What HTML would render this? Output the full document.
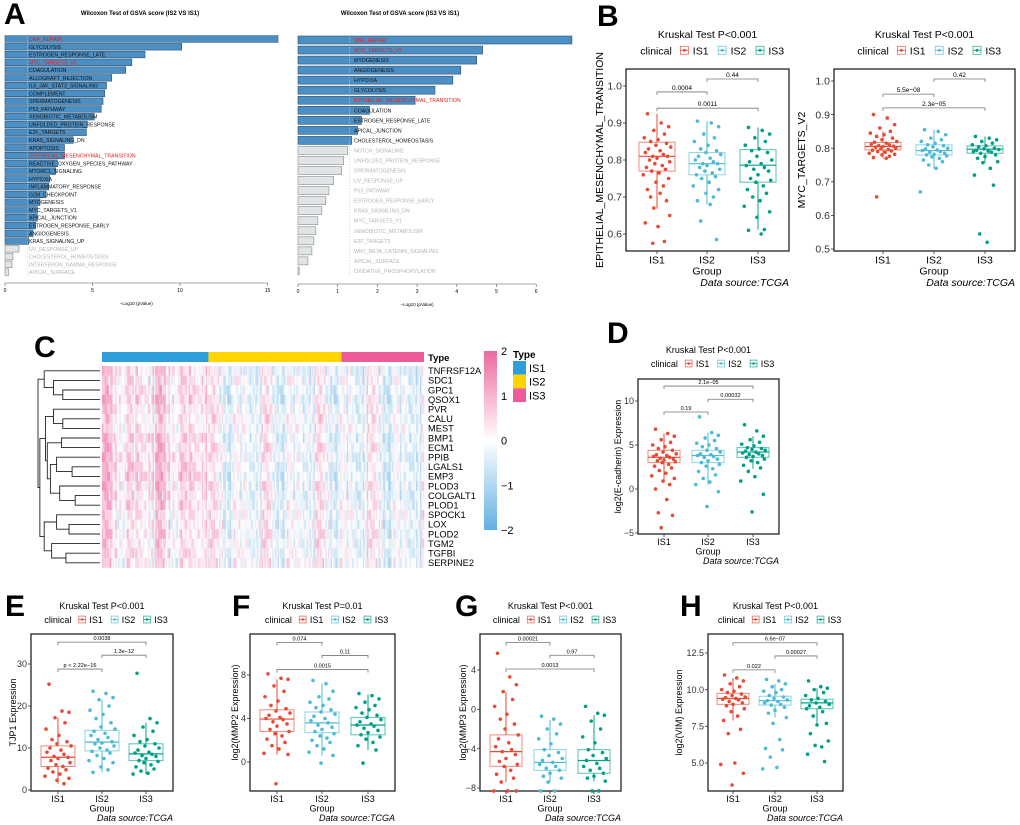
<!DOCTYPE html>
<html><head><meta charset="utf-8"><style>
html,body{margin:0;padding:0;background:#fff}
svg{display:block;font-family:"Liberation Sans",Arial,sans-serif}
</style></head><body>
<svg id="fig" width="1020" height="825" viewBox="0 0 1020 825" xmlns="http://www.w3.org/2000/svg"></svg>
<script>
// ===== Panel A data =====
const aLeftNames=["DNA_REPAIR","GLYCOLYSIS","ESTROGEN_RESPONSE_LATE","MYC_TARGETS_V2","COAGULATION","ALLOGRAFT_REJECTION","IL6_JAK_STAT3_SIGNALING","COMPLEMENT","SPERMATOGENESIS","P53_PATHWAY","XENOBIOTIC_METABOLISM","UNFOLDED_PROTEIN_RESPONSE","E2F_TARGETS","KRAS_SIGNALING_DN","APOPTOSIS","EPITHELIAL_MESENCHYMAL_TRANSITION","REACTIVE_OXYGEN_SPECIES_PATHWAY","MTORC1_SIGNALING","HYPOXIA","INFLAMMATORY_RESPONSE","G2M_CHECKPOINT","MYOGENESIS","MYC_TARGETS_V1","APICAL_JUNCTION","ESTROGEN_RESPONSE_EARLY","ANGIOGENESIS","KRAS_SIGNALING_UP","UV_RESPONSE_UP","CHOLESTEROL_HOMEOSTASIS","INTERFERON_GAMMA_RESPONSE","APICAL_SURFACE"];
const aLeftValues=[15.6,10.1,8.0,7.25,6.9,6.1,5.8,5.7,5.6,5.5,5.1,4.7,4.65,3.9,3.4,3.4,3.0,2.9,2.55,2.5,2.35,2.0,1.85,1.85,1.75,1.6,1.35,0.8,0.45,0.4,0.2];
const aRightNames=["DNA_REPAIR","MYC_TARGETS_V2","MYOGENESIS","ANGIOGENESIS","HYPOXIA","GLYCOLYSIS","EPITHELIAL_MESENCHYMAL_TRANSITION","COAGULATION","ESTROGEN_RESPONSE_LATE","APICAL_JUNCTION","CHOLESTEROL_HOMEOSTASIS","NOTCH_SIGNALING","UNFOLDED_PROTEIN_RESPONSE","SPERMATOGENESIS","UV_RESPONSE_UP","P53_PATHWAY","ESTROGEN_RESPONSE_EARLY","KRAS_SIGNALING_DN","MYC_TARGETS_V1","XENOBIOTIC_METABOLISM","E2F_TARGETS","WNT_BETA_CATENIN_SIGNALING","APICAL_SURFACE","OXIDATIVE_PHOSPHORYLATION"];
const aRightValues=[6.9,4.65,4.5,4.1,3.9,3.45,2.95,1.8,1.6,1.5,1.35,1.25,1.15,1.1,0.9,0.78,0.7,0.6,0.5,0.45,0.4,0.35,0.25,0.03];
const aLeftTicks=[0,5,10,15];
const aRightTicks=[0,1,2,3,4,5,6];
const redTerms=["DNA_REPAIR","MYC_TARGETS_V2","EPITHELIAL_MESENCHYMAL_TRANSITION"];

// ===== Panel C data =====
const genes=["TNFRSF12A","SDC1","GPC1","QSOX1","PVR","CALU","MEST","BMP1","ECM1","PPIB","LGALS1","EMP3","PLOD3","COLGALT1","PLOD1","SPOCK1","LOX","PLOD2","TGM2","TGFBI","SERPINE2"];
const groupCols=[80,100,62];
const rowMeanIS1=[0.4,0.3,0.4,0.5,0.3,0.2,0.2,0.5,0.4,0.5,0.5,0.6,0.4,0.4,0.4,0.2,0.2,0.3,0.2,0.3,0.2];
const rowMeanIS2=[-0.2,-0.1,-0.3,-0.3,-0.1,0.0,-0.1,-0.2,-0.1,-0.1,-0.2,-0.3,-0.1,-0.2,-0.1,-0.1,-0.1,-0.1,-0.1,-0.1,0.0];
const rowMeanIS3=[-0.3,-0.2,-0.3,-0.3,-0.2,-0.2,-0.1,-0.3,-0.2,-0.3,-0.3,-0.3,-0.2,-0.3,-0.2,-0.1,-0.2,-0.2,-0.2,-0.2,-0.2];
const cellPattern=[0.9,-0.6,0.2,-0.3,1.2,-0.8,0.4,0.0,-0.5,0.7,-0.2,1.0,-0.9,0.3,-0.4,0.6,-1.1,0.1,0.8,-0.3,0.5,-0.7,1.3,-0.1,-0.6,0.2,0.9,-0.4,0.0,-1.0,0.6,0.3,-0.2,1.1,-0.5,0.4,-0.8,0.7,-0.1,0.2];
const cbTicks=[2,1,0,-1,-2];

// ===== Box panels data =====
const groups=["IS1","IS2","IS3"];
const emtStats=[[0.77,0.81,0.848,0.668,0.925],[0.76,0.79,0.82,0.68,0.905],[0.74,0.786,0.828,0.612,0.888]];
const emtIS1=[0.925,0.9,0.89,0.88,0.87,0.86,0.855,0.85,0.845,0.84,0.835,0.83,0.825,0.82,0.815,0.81,0.81,0.805,0.8,0.795,0.79,0.785,0.78,0.775,0.77,0.765,0.76,0.75,0.74,0.73,0.72,0.71,0.7,0.69,0.67,0.65,0.63,0.62,0.58,0.575];
const emtIS2=[0.905,0.9,0.89,0.87,0.86,0.85,0.84,0.83,0.825,0.82,0.815,0.81,0.805,0.8,0.795,0.79,0.79,0.785,0.78,0.775,0.77,0.765,0.76,0.755,0.75,0.74,0.73,0.72,0.71,0.7,0.69,0.68,0.635,0.585];
const emtIS3=[0.888,0.88,0.87,0.86,0.85,0.84,0.83,0.825,0.82,0.81,0.8,0.795,0.79,0.785,0.78,0.775,0.77,0.76,0.75,0.745,0.74,0.73,0.72,0.71,0.7,0.69,0.675,0.66,0.645,0.612,0.61,0.6];
const emtBrackets=[[0,1,0.984,"0.0004"],[1,2,1.019,"0.44"],[0,2,0.94,"0.0011"]];
const mycStats=[[0.795,0.805,0.817,0.77,0.85],[0.78,0.793,0.81,0.74,0.855],[0.785,0.797,0.807,0.757,0.835]];
const mycIS1=[0.9,0.89,0.87,0.86,0.85,0.845,0.84,0.835,0.83,0.825,0.82,0.818,0.815,0.812,0.81,0.808,0.806,0.805,0.803,0.8,0.798,0.796,0.794,0.792,0.79,0.788,0.785,0.782,0.78,0.776,0.772,0.77,0.655];
const mycIS2=[0.855,0.85,0.84,0.83,0.825,0.82,0.815,0.81,0.807,0.804,0.8,0.798,0.795,0.793,0.79,0.788,0.785,0.782,0.78,0.777,0.774,0.77,0.765,0.76,0.75,0.74,0.67];
const mycIS3=[0.835,0.83,0.825,0.82,0.815,0.81,0.807,0.804,0.8,0.798,0.796,0.794,0.792,0.79,0.788,0.785,0.78,0.775,0.77,0.76,0.757,0.74,0.72,0.69,0.545,0.52];
const mycBrackets=[[0,1,0.961,"5.5e\u221208"],[1,2,1.006,"0.42"],[0,2,0.92,"2.3e\u221205"]];
const cdhStats=[[3.0,3.6,4.4,0.9,6.3],[3.0,3.8,4.4,0.5,6.4],[3.6,4.2,4.7,2.3,6.0]];
const cdhIS1=[6.8,6.3,6,5.6,5.3,5,4.8,4.6,4.4,4.2,4,3.9,3.8,3.7,3.6,3.5,3.4,3.3,3.2,3.1,3,2.8,2.6,2.4,2.1,1.8,1.5,1.2,0.9,0.5,0,-1.2,-2.7,-3,-4.4];
const cdhIS2=[8.2,6.4,6.1,5.8,5.5,5.2,5,4.8,4.6,4.4,4.2,4,3.9,3.8,3.7,3.6,3.4,3.2,3,2.8,2.6,2.3,2,1.6,1.2,0.8,0.5,-0.3,-2];
const cdhIS3=[7.3,6.6,6,5.6,5.3,5.1,4.9,4.7,4.6,4.5,4.4,4.3,4.2,4.1,4,3.9,3.8,3.7,3.6,3.4,3.2,3,2.7,2.4,2,1.4,0.9,-0.6,-2.6];
const cdhBrackets=[[0,2,11.7,"2.1e\u221205"],[1,2,10.2,"0.00032"],[0,1,8.75,"0.19"]];
const tjpStats=[[5.6,7.8,10.5,1.5,17.2],[9.3,11.4,14.2,4.2,21.5],[7.0,8.6,11.0,3.8,16]];
const tjpIS1=[25.2,18.8,18.5,17.2,16,14.5,13,12,11.5,11,10.5,10,9.5,9,8.5,8,7.8,7.5,7,6.5,6,5.6,5.2,4.8,4.3,3.8,3.3,2.8,2.3,1.5];
const tjpIS2=[23.5,23,22,21.5,20,19,18,17,16,15,14.5,14,13.5,13,12.5,12,11.5,11.2,11,10.5,10,9.5,9.2,8.8,8.2,7.5,7,6.5,5.5,4.8,4.2];
const tjpIS3=[27.8,17,16,15,14,13,12,11.5,11,10.5,10,9.5,9,8.8,8.5,8.2,8,7.5,7,6.8,6.5,6,5.5,5,4.5,4,3.8];
const tjpBrackets=[[0,2,35.2,"0.0038"],[1,2,32.1,"1.3e\u221212"],[0,1,28.8,"p < 2.22e\u221216"]];
const mmp2Stats=[[2.8,3.95,4.8,0.7,7.6],[2.7,3.6,4.6,0.6,7.2],[2.5,3.4,4.1,1.1,6.2]];
const mmp2IS1=[8.1,7.7,7.6,7,6.5,6,5.6,5.2,4.9,4.7,4.5,4.3,4.1,4,3.9,3.7,3.5,3.3,3,2.8,2.6,2.4,2.1,1.8,1.5,1.2,0.8,0.7,-2];
const mmp2IS2=[7.5,7.2,6.5,6,5.8,5.5,5.2,5,4.8,4.6,4.4,4.2,4,3.8,3.6,3.4,3.2,3,2.8,2.6,2.4,2.2,2,1.8,1.5,1.2,0.9,0.6,-0.1];
const mmp2IS3=[6.3,6.1,5.8,5.5,5.2,5,4.8,4.5,4.3,4.1,3.9,3.7,3.5,3.4,3.3,3.1,2.9,2.7,2.5,2.3,2.1,1.8,1.5,1.1,-0.1];
const mmp2Brackets=[[0,1,11.0,"0.074"],[1,2,9.8,"0.11"],[0,2,8.5,"0.0015"]];
const mmp3Stats=[[-5.8,-4.3,-2.6,-7.4,1.8],[-6.2,-5.4,-4.1,-7.4,-1.1],[-6.5,-5.2,-4.1,-7.3,-0.6]];
const mmp3IS1=[5.7,3.3,2.5,1.8,1,0.3,-0.5,-1,-1.5,-2,-2.6,-3,-3.4,-3.8,-4.1,-4.3,-4.6,-5,-5.3,-5.6,-5.8,-6.2,-6.6,-7,-7.4,-8.3,-8.3,-8.3];
const mmp3IS2=[-0.7,-1,-1.5,-2,-2.5,-3,-3.5,-4.1,-4.4,-4.7,-5,-5.2,-5.4,-5.6,-5.8,-6,-6.2,-6.5,-6.8,-7,-7.4,-8.3,-8.3];
const mmp3IS3=[0.3,-0.4,-0.6,-1.2,-2,-2.8,-3.4,-4.1,-4.4,-4.7,-5,-5.2,-5.5,-5.8,-6,-6.2,-6.5,-6.8,-7,-7.3,-8.3,-8.3];
const mmp3Brackets=[[0,1,6.8,"0.00021"],[1,2,5.5,"0.97"],[0,2,4.1,"0.0013"]];
const vimStats=[[9.0,9.4,9.75,7.9,10.8],[8.95,9.25,9.55,8.1,10.4],[8.7,9.1,9.35,7.7,10.1]];
const vimIS1=[11,10.8,10.6,10.4,10.2,10,9.9,9.8,9.7,9.6,9.5,9.45,9.4,9.35,9.3,9.2,9.1,9,8.9,8.7,8.5,8.2,7.9,7.3,7,5,4.9,4.3,3.5];
const vimIS2=[10.7,10.6,10.4,10.2,10,9.9,9.8,9.6,9.5,9.4,9.3,9.25,9.2,9.1,9,8.95,8.8,8.6,8.4,8.1,7.7,6.6,6,5.9,5.4,4.7,4.6];
const vimIS3=[10.6,10.2,10.1,10,9.8,9.6,9.4,9.3,9.2,9.1,9,8.9,8.8,8.7,8.5,8.2,7.7,7.6,7,6.5,6.2,6.1,5.6,5.1];
const vimBrackets=[[0,2,13.2,"6.6e\u221207"],[1,2,12.3,"0.00027"],[0,1,11.35,"0.022"]];
const jitter=[-9,4,11,-3,7,-12,1,-6,9,-1,13,-8,3,-11,6,-4,10,0,-7,12,-2,5,-10,8,-5,2,-13,11,-1,6,-9,3,-6,9,-3,12,-11,1,7,-4];

const NS='http://www.w3.org/2000/svg';
const svg=document.getElementById('fig');
function mk(tag,attrs,parent){const e=document.createElementNS(NS,tag);for(const k in attrs)e.setAttribute(k,attrs[k]);(parent||svg).appendChild(e);return e;}
function tx(x,y,s,attrs,parent){const t=mk('text',Object.assign({x:x,y:y},attrs||{}),parent);t.textContent=s;return t;}
function letter(x,y,s){const t=tx(x,y,s,{'font-size':30,'font-weight':'bold'});

}

// ===== Panel A =====
function barPanel(names,vals,ticks,x0,ppu,y0,step,bh,labX,title,titleX,axisY,name){
  const g=mk('g',{});
  
  
  const X=v=>x0+v*ppu;
  const tt=tx(titleX,15,title,{'font-size':6,'font-weight':'bold','text-anchor':'middle'},g);
  
  
  vals.forEach((v,i)=>{
    const sig=v>1.3;
    const cy=y0+i*step;
    const r=mk('rect',{x:X(0),y:cy-bh/2,width:Math.max(0.8,X(v)-X(0)),height:bh,fill:sig?'#4b8fc4':'#dfe4e6',stroke:sig?'#2d4f6c':'#8a8a8a','stroke-width':0.6},g);
    
    
    const col=redTerms.indexOf(names[i])>=0?'#e02020':(sig?'#111':'#b0b4b8');
    const l=tx(labX,cy+2,names[i],{'font-size':5.2,fill:col},g);
    
    
  });
  mk('line',{x1:X(1.3),x2:X(1.3),y1:y0-5,y2:y0+(vals.length-1)*step+5,stroke:'#ccc','stroke-width':0.6,'stroke-dasharray':'1.5,1.5'},g);
  mk('line',{x1:X(ticks[0]),x2:X(ticks[ticks.length-1]),y1:axisY,y2:axisY,stroke:'#555','stroke-width':0.6},g);
  ticks.forEach(t=>{
    mk('line',{x1:X(t),x2:X(t),y1:axisY,y2:axisY+3,stroke:'#555','stroke-width':0.6},g);
    const tl=tx(X(t),axisY+9,String(t),{'font-size':5,'text-anchor':'middle'},g);
    
    
  });
  const at=tx((X(ticks[0])+X(ticks[ticks.length-1]))/2,axisY+22,'\u2212Log10 (pValue)',{'font-size':4.5,'text-anchor':'middle'},g);
  
  
}
letter(4,24,'A');
barPanel(aLeftNames,aLeftValues,aLeftTicks,5,17.5,39,7.77,6.6,29,'Wilcoxon Test of GSVA score (IS2 VS IS1)',140,283,'gsva-bar-chart-is2-vs-is1');
barPanel(aRightNames,aRightValues,aRightTicks,298,39.7,40,10.04,8,354,'Wilcoxon Test of GSVA score (IS3 VS IS1)',400,284,'gsva-bar-chart-is3-vs-is1');

// ===== Panel C heatmap =====
letter(34,357,'C');
(function(){
  const g=mk('g',{});
  
  
  const left=102,right=424,top=366,rowH=9.6;
  const nC=groupCols[0]+groupCols[1]+groupCols[2];
  const cw=(right-left)/nC;
  const typeCols=['#2f9fdb','#ffd400','#ef5a9a'];
  function color(v){v=Math.max(-2,Math.min(2,v));
    if(v>=0){const t=v/2;return 'rgb('+Math.round(255-t*(255-236))+','+Math.round(255-t*(255-106))+','+Math.round(255-t*(255-160))+')';}
    const t=-v/2;return 'rgb('+Math.round(255-t*(255-98))+','+Math.round(255-t*(255-176))+','+Math.round(255-t*(255-226))+')';}
  let c0=0;
  groupCols.forEach((n,gi)=>{
    const r=mk('rect',{x:left+c0*cw,y:352,width:n*cw,height:10,fill:typeCols[gi]},g);
    
    
    c0+=n;
  });
  const means=[rowMeanIS1,rowMeanIS2,rowMeanIS3];
  const L=cellPattern.length;
  genes.forEach((gn,ri)=>{
    let c=0;
    for(let gi=0;gi<3;gi++){
      for(let k=0;k<groupCols[gi];k++){
        const v=means[gi][ri]+0.55*cellPattern[(c*11)%L]+0.4*cellPattern[(c*7+ri*17)%L];
        const r=mk('rect',{x:left+c*cw,y:top+ri*rowH,width:cw+0.25,height:rowH+0.2,fill:color(v)},g);
        
        
        c++;
      }
    }
    const l=tx(428,top+ri*rowH+rowH/2+3.3,gn,{'font-size':9.3},g);
    
    
  });
  const tl=tx(428,361,'Type',{'font-size':9.5,'font-weight':'bold'},g);
  
  
  // dendrogram
  const tree=[1.0,[0.9,0,[0.75,1,[0.6,2,3]]],[0.97,[0.88,[0.75,4,[0.6,5,6]],[0.85,[0.62,7,8],[0.8,[0.7,9,[0.45,10,11]],[0.65,12,[0.4,13,14]]]]],[0.9,[0.7,15,[0.5,16,17]],[0.78,18,[0.55,19,20]]]]];
  const dg=mk('g',{},g);
  
  
  const HX=h=>100-h*62;
  function draw(n){
    if(typeof n==='number')return {x:100,y:top+n*rowH+rowH/2};
    const a=draw(n[1]),b=draw(n[2]),x=HX(n[0]);
    mk('path',{d:'M'+a.x+','+a.y+'H'+x+'V'+b.y+'H'+b.x,fill:'none',stroke:'#222','stroke-width':0.9},dg);
    return {x:x,y:(a.y+b.y)/2};
  }
  draw(tree);
  // colorbar
  const defs=mk('defs',{});
  const lg=mk('linearGradient',{id:'cbg',x1:0,y1:0,x2:0,y2:1},defs);
  mk('stop',{offset:'0','stop-color':color(2)},lg);
  mk('stop',{offset:'0.5','stop-color':'#fff'},lg);
  mk('stop',{offset:'1','stop-color':color(-2)},lg);
  const cb=mk('rect',{x:484,y:351,width:13,height:179,fill:'url(#cbg)'},g);
  
  
  cbTicks.forEach(t=>{
    const y=351+(2-t)/4*179;
    const l=tx(501,y+4,t<0?'\u2212'+(-t):String(t),{'font-size':11},g);
    
    
  });
  const lt=tx(513,358,'Type',{'font-size':10,'font-weight':'bold'},g);
  
  
  groups.forEach((s,i)=>{
    const r=mk('rect',{x:513,y:361+i*13.7,width:13,height:13.7,fill:typeCols[i]},g);
    
    
    const l=tx(529,372+i*13.7,s,{'font-size':11},g);
    
    
  });
})();

// ===== Box panels =====
const gcol=['#e64b35','#4dbbd5','#00a087'];
function boxPanel(o){
  const g=mk('g',{});
  
  
  const f=o.frame;
  const Y=v=>o.m[1]+(v-o.m[0])*(o.m[3]-o.m[1])/(o.m[2]-o.m[0]);
  const fs=o.fs;
  const cx=(f[0]+f[1])/2;
  const t=tx(cx,o.ty,o.title,{'font-size':fs,'text-anchor':'middle'},g);
  
  
  // legend
  const lx=cx-fs*6.4;
  const lc=tx(lx,o.ty+fs*1.55,'clinical',{'font-size':fs},g);
  
  
  groups.forEach((s,i)=>{
    const ix=lx+fs*4.2+i*fs*3.6, iy=o.ty+fs*1.55-fs*0.38;
    const k=mk('g',{},g);
    
    
    mk('rect',{x:ix-fs*0.38,y:iy-fs*0.38,width:fs*0.76,height:fs*0.76,fill:'none',stroke:gcol[i],'stroke-width':0.8,opacity:0.8},k);
    mk('line',{x1:ix-fs*0.38,x2:ix+fs*0.38,y1:iy,y2:iy,stroke:gcol[i],'stroke-width':0.8},k);
    mk('circle',{cx:ix,cy:iy,r:fs*0.14,fill:gcol[i]},k);
    tx(ix+fs*0.8,o.ty+fs*1.55,s,{'font-size':fs},k);
  });
  // frame
  const fr=mk('rect',{x:f[0],y:f[2],width:f[1]-f[0],height:f[3]-f[2],fill:'none',stroke:'#222','stroke-width':1.3},g);
  
  
  o.ticks.forEach((tv,i)=>{
    const y=Y(tv);
    mk('line',{x1:f[0]-3,x2:f[0],y1:y,y2:y,stroke:'#333','stroke-width':0.8},g);
    const l=tx(f[0]-4,y+fs*0.35,o.tickLabels[i],{'font-size':fs,'text-anchor':'end',fill:'#333'},g);
    
    
  });
  const yt=tx(0,0,o.ytitle,{'font-size':fs,'text-anchor':'middle',transform:'translate('+o.ytx+','+((f[2]+f[3])/2)+') rotate(-90)'},g);
  
  
  const bw=o.bw;
  o.stats.forEach((s,i)=>{
    const x=o.gx[i], c=gcol[i];
    const bx=mk('g',{},g);
    
    
    mk('line',{x1:x,x2:x,y1:Y(s[4]),y2:Y(s[2]),stroke:c,'stroke-width':1},bx);
    mk('line',{x1:x,x2:x,y1:Y(s[0]),y2:Y(s[3]),stroke:c,'stroke-width':1},bx);
    mk('rect',{x:x-bw/2,y:Y(s[2]),width:bw,height:Y(s[0])-Y(s[2]),fill:'#fff','fill-opacity':0.3,stroke:c,'stroke-opacity':0.65,'stroke-width':1},bx);
    mk('line',{x1:x-bw/2,x2:x+bw/2,y1:Y(s[1]),y2:Y(s[1]),stroke:c,'stroke-width':1.2},bx);
    o.pts[i].forEach((v,j)=>{
      const p=mk('circle',{cx:x+jitter[j%jitter.length]*bw/34,cy:Y(v),r:1.8,fill:c},bx);
      
      
    });
    mk('line',{x1:x,x2:x,y1:f[3],y2:f[3]+3,stroke:'#333','stroke-width':0.8},g);
    const xl=tx(x,f[3]+fs*1.2,groups[i],{'font-size':fs,'text-anchor':'middle'},g);
    
    
  });
  o.br.forEach(b=>{
    const y=Y(b[2]),x1=o.gx[b[0]],x2=o.gx[b[1]];
    const bg=mk('g',{},g);
    
    
    mk('path',{d:'M'+x1+','+(y+3)+'V'+y+'H'+x2+'V'+(y+3),fill:'none',stroke:'#777','stroke-width':0.8},bg);
    tx((x1+x2)/2,y-2,b[3],{'font-size':fs*0.62,'text-anchor':'middle'},bg);
  });
  const gt=tx(o.gx[1],f[3]+fs*2.25,'Group',{'font-size':fs,'text-anchor':'middle'},g);
  
  
  const ds=tx(f[1],f[3]+fs*3.35,'Data source:TCGA',{'font-size':fs,'font-style':'italic','text-anchor':'end'},g);
  
  
}
letter(597,26,'B');
boxPanel({name:'emt-boxplot',frame:[626,789,69,251],m:[1.0,86,0.6,234],ticks:[0.6,0.7,0.8,0.9,1.0],tickLabels:['0.6','0.7','0.8','0.9','1.0'],gx:[657,707,758],stats:emtStats,pts:[emtIS1,emtIS2,emtIS3],br:emtBrackets,title:'Kruskal Test P<0.001',ty:38,fs:10.5,bw:36,ytitle:'EPITHELIAL_MESENCHYMAL_TRANSITION',ytx:603});
boxPanel({name:'myc-targets-boxplot',frame:[834,1015,69,251],m:[1.0,81,0.5,249],ticks:[0.5,0.6,0.7,0.8,0.9,1.0],tickLabels:['0.5','0.6','0.7','0.8','0.9','1.0'],gx:[883,934,985],stats:mycStats,pts:[mycIS1,mycIS2,mycIS3],br:mycBrackets,title:'Kruskal Test P<0.001',ty:38,fs:10.5,bw:36,ytitle:'MYC_TARGETS_V2',ytx:830-25});
letter(607,343,'D');
boxPanel({name:'e-cadherin-boxplot',frame:[638,779,379,534],m:[10,401,0,489],ticks:[-5,0,5,10],tickLabels:['\u22125','0','5','10'],gx:[664,708,753],stats:cdhStats,pts:[cdhIS1,cdhIS2,cdhIS3],br:cdhBrackets,title:'Kruskal Test P<0.001',ty:353,fs:9,bw:32,ytitle:'log2(E-cadherin) Expression',ytx:621});
letter(5,616,'E');
boxPanel({name:'tjp1-boxplot',frame:[31,173,634,791],m:[30,664,0,790],ticks:[0,10,20,30],tickLabels:['0','10','20','30'],gx:[58,102,146],stats:tjpStats,pts:[tjpIS1,tjpIS2,tjpIS3],br:tjpBrackets,title:'Kruskal Test P<0.001',ty:609,fs:9,bw:34,ytitle:'TJP1 Expression',ytx:16});
letter(232,616,'F');
boxPanel({name:'mmp2-boxplot',frame:[250,395,634,791],m:[8,675,0,762],ticks:[0,4,8],tickLabels:['0','4','8'],gx:[277,322,368],stats:mmp2Stats,pts:[mmp2IS1,mmp2IS2,mmp2IS3],br:mmp2Brackets,title:'Kruskal Test P=0.01',ty:609,fs:9,bw:34,ytitle:'log2(MMP2 Expression)',ytx:238});
letter(455,616,'G');
boxPanel({name:'mmp3-boxplot',frame:[480,621,634,791],m:[4,670,-8,788],ticks:[-8,-4,0,4],tickLabels:['\u22128','\u22124','0','4'],gx:[506,550,594],stats:mmp3Stats,pts:[mmp3IS1,mmp3IS2,mmp3IS3],br:mmp3Brackets,title:'Kruskal Test P<0.001',ty:609,fs:9,bw:32,ytitle:'log2(MMP3 Expression)',ytx:466});
letter(680,616,'H');
boxPanel({name:'vim-boxplot',frame:[708,843,634,791],m:[12.5,653,5,763],ticks:[5,7.5,10,12.5],tickLabels:['5.0','7.5','10.0','12.5'],gx:[733,775,817],stats:vimStats,pts:[vimIS1,vimIS2,vimIS3],br:vimBrackets,title:'Kruskal Test P<0.001',ty:609,fs:9,bw:32,ytitle:'log2(VIM) Expression',ytx:682});
</script>
</body></html>
